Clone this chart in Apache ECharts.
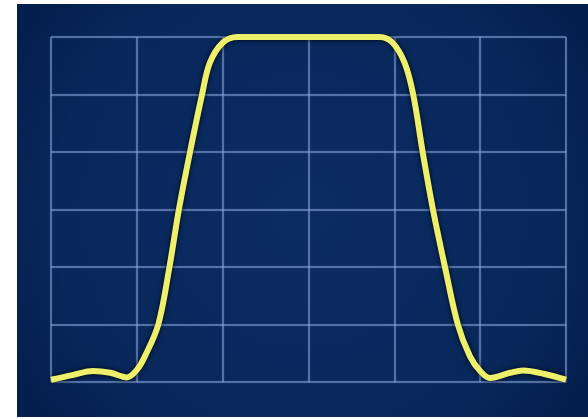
<!DOCTYPE html>
<html>
<head>
<meta charset="utf-8">
<script src="https://cdn.jsdelivr.net/npm/echarts@6/dist/echarts.min.js"></script>
<style>
html,body{margin:0;padding:0;background:#ffffff;}
#chart{width:588px;height:419px;}
</style>
</head>
<body>
<div id="chart"></div>
<script>
// Grid divisions (oscilloscope-style, no labels)
var xTicks = [0, 1, 2, 3, 4, 5, 6];
var yTicks = [0, 1, 2, 3, 4, 5, 6];
// Trace (x in divisions, y in divisions)
var traceX = [0, 0.25, 0.49, 0.69, 0.885, 1.0, 1.095, 1.25, 1.38, 1.49, 1.62, 1.76, 1.85, 2.0, 2.17, 2.5, 3.0, 3.5, 3.83, 3.98, 4.12, 4.22, 4.33, 4.45, 4.59, 4.74, 4.88, 5.0, 5.115, 5.35, 5.5, 5.75, 6.0];
var traceY = [0.04, 0.12, 0.19, 0.16, 0.08, 0.21, 0.45, 1.0, 2.0, 3.0, 4.0, 5.0, 5.55, 5.9, 6.0, 6.0, 6.0, 6.0, 6.0, 5.9, 5.55, 5.0, 4.0, 3.0, 2.0, 1.0, 0.45, 0.19, 0.07, 0.16, 0.2, 0.14, 0.04];

var data = traceX.map(function (x, i) { return [x, traceY[i]]; });
var chart = echarts.init(document.getElementById('chart'), null, {renderer: 'canvas'});
var gridColor = 'rgba(135,165,220,0.5)';
chart.setOption({
  animation: false,
  backgroundColor: '#ffffff',
  graphic: [{
    type: 'rect', left: 17, top: 4, z: -10,
    shape: {width: 571, height: 413},
    style: {
      fill: new echarts.graphic.RadialGradient(0.5, 0.5, 0.8, [
        {offset: 0, color: '#0b2c64'},
        {offset: 0.75, color: '#08275a'},
        {offset: 1, color: '#041f4d'}
      ])
    }
  }],
  grid: {left: 51, top: 37, width: 515, height: 345},
  xAxis: {
    type: 'value', min: xTicks[0], max: xTicks[xTicks.length - 1], interval: 1,
    axisLine: {show: false}, axisTick: {show: false}, axisLabel: {show: false},
    splitLine: {show: true, lineStyle: {color: gridColor, width: 2, shadowColor: 'rgba(135,165,220,0.5)', shadowBlur: 2}}
  },
  yAxis: {
    type: 'value', min: yTicks[0], max: yTicks[yTicks.length - 1], interval: 1,
    axisLine: {show: false}, axisTick: {show: false}, axisLabel: {show: false},
    splitLine: {show: true, lineStyle: {color: gridColor, width: 2, shadowColor: 'rgba(135,165,220,0.5)', shadowBlur: 2}}
  },
  series: [{
    type: 'line', data: data, smooth: 0.35, showSymbol: false,
    lineStyle: {color: '#eef06c', width: 6, shadowColor: 'rgba(0,0,0,0.85)', shadowBlur: 5},
    z: 5
  }]
});
</script>
</body>
</html>
